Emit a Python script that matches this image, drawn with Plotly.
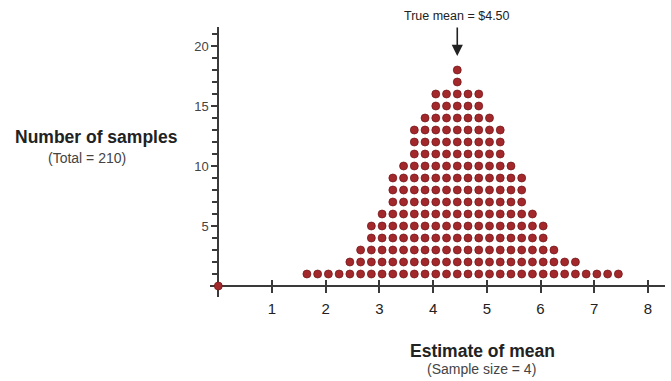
import plotly.graph_objects as go

# ---- data ----
x_values = [1.65, 1.85, 2.05, 2.25, 2.45, 2.65, 2.85, 3.05, 3.25, 3.45,
            3.65, 3.85, 4.05, 4.25, 4.45, 4.65, 4.85, 5.05, 5.25, 5.45,
            5.65, 5.85, 6.05, 6.25, 6.45, 6.65, 6.85, 7.05, 7.25, 7.45]
counts = [1, 1, 1, 1, 2, 3, 5, 6, 9, 10,
          13, 14, 16, 16, 18, 16, 16, 14, 13, 10,
          9, 6, 5, 3, 2, 2, 1, 1, 1, 1]
x_ticks = [1, 2, 3, 4, 5, 6, 7, 8]
y_ticks = [5, 10, 15, 20]
true_mean_label = "True mean = $4.50"

# ---- geometry ----
W, H = 671, 381
ML, MR, MT, MB = 210, 6, 27, 84
PW, PH = W - ML - MR, H - MT - MB
X_UNIT = 53.7   # px per x unit
Y_UNIT = 12.0   # px per count
x0 = -(218.3 - ML) / X_UNIT
x1 = x0 + PW / X_UNIT
y1 = (286 - MT) / Y_UNIT
y0 = y1 - PH / Y_UNIT
pos_x_axis = (0 - y0) / (y1 - y0)
pos_y_axis = (0 - x0) / (x1 - x0)

def px(xp):
    return (xp - ML) / PW

def py(yp):
    return (H - MB - yp) / PH

# build the stacked dots from the counts
dot_x, dot_y = [], []
for xv, c in zip(x_values, counts):
    for k in range(1, c + 1):
        dot_x.append(xv)
        dot_y.append(k)

peak_x = x_values[counts.index(max(counts))]

RED = "#a3282b"
EDGE = "#6e1618"
AX = "#3a3a3a"
FONT = "Liberation Sans, Arial, Helvetica, sans-serif"

fig = go.Figure()
fig.add_trace(go.Scatter(
    x=dot_x, y=dot_y, mode="markers",
    marker=dict(size=8, color=RED, line=dict(color=EDGE, width=0.7)),
    cliponaxis=False, hoverinfo="x+y", showlegend=False))
fig.add_trace(go.Scatter(
    x=[0], y=[0], mode="markers",
    marker=dict(size=8, color=RED, line=dict(color=EDGE, width=0.7)),
    cliponaxis=False, showlegend=False, hoverinfo="skip"))
# invisible trace to carry the overlay axis (crossing tick marks)
fig.add_trace(go.Scatter(x=[x0], y=[y0], xaxis="x2", mode="markers",
                         marker=dict(opacity=0), showlegend=False, hoverinfo="skip"))

fig.update_layout(
    width=W, height=H,
    margin=dict(l=ML, r=MR, t=MT, b=MB),
    paper_bgcolor="white", plot_bgcolor="white",
    font=dict(family=FONT, color="#222"),
    xaxis=dict(range=[x0, x1], domain=[0, 1], anchor="free", position=pos_x_axis,
               showline=True, linecolor=AX, linewidth=2,
               ticks="outside", ticklen=6, tickwidth=1.8, tickcolor=AX,
               tickvals=x_ticks, ticktext=[str(v) for v in x_ticks],
               tickfont=dict(size=15, color="#222"), ticklabelstandoff=3,
               showgrid=False, zeroline=False, automargin=False,
               layer="below traces", fixedrange=True),
    xaxis2=dict(range=[x0, x1], overlaying="x", anchor="free", position=pos_x_axis,
                side="bottom", showline=False,
                ticks="inside", ticklen=6, tickwidth=1.8, tickcolor=AX,
                tickvals=x_ticks, showticklabels=False,
                showgrid=False, zeroline=False, automargin=False,
                layer="below traces", fixedrange=True),
    yaxis=dict(range=[y0, y1], domain=[0, 1], anchor="free", position=pos_y_axis,
               showline=True, linecolor=AX, linewidth=2,
               ticks="outside", ticklen=6, tickwidth=1.8, tickcolor=AX,
               tickvals=y_ticks, ticktext=[str(v) for v in y_ticks],
               tickfont=dict(size=13, color="#444"),
               minor=dict(dtick=1, tick0=0, ticks="outside", ticklen=5,
                          tickwidth=1.6, tickcolor=AX, showgrid=False),
               showgrid=False, zeroline=False, automargin=False,
               layer="below traces", fixedrange=True),
)

C = dict(xanchor="center", yanchor="middle", showarrow=False)
ann = []
ann.append(dict(x=px(96), y=py(137), xref="paper", yref="paper",
                text="<b>Number of samples</b>", font=dict(size=17.5, color="#222"), **C))
ann.append(dict(x=px(87), y=py(158), xref="paper", yref="paper",
                text="(Total = 210)", font=dict(size=14, color="#444"), **C))
ann.append(dict(x=px(482), y=py(351), xref="paper", yref="paper",
                text="<b>Estimate of mean</b>", font=dict(size=17.5, color="#222"), **C))
ann.append(dict(x=px(481), y=py(369), xref="paper", yref="paper",
                text="(Sample size = 4)", font=dict(size=14, color="#444"), **C))
ann.append(dict(x=peak_x, y=py(16), xref="x", yref="paper",
                text=true_mean_label, font=dict(size=12.5, color="#222"), **C))
ann.append(dict(x=peak_x, y=(286 - 56) / Y_UNIT, xref="x", yref="y", text="",
                showarrow=True, ax=0, ay=-30, arrowhead=2, arrowsize=1.4,
                arrowwidth=1.6, arrowcolor="#222"))
fig.update_layout(annotations=ann)

fig.write_html("out.html", config={"displayModeBar": False},
               post_script="document.body.style.margin='0';document.body.style.padding='0';")
